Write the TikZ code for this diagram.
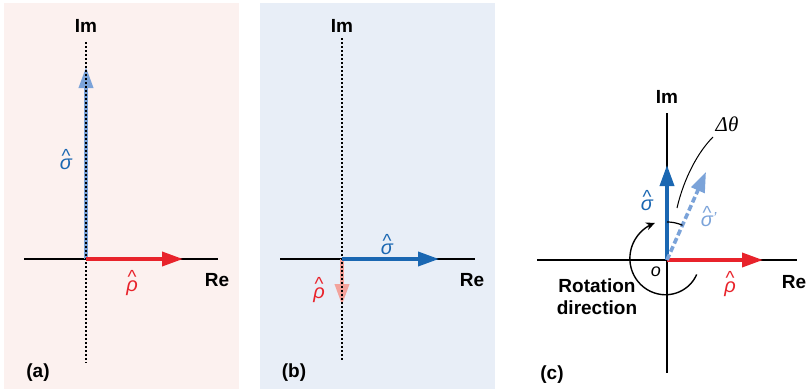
\documentclass[tikz,border=0pt]{standalone}
\usepackage{fontspec}
\setmainfont{Liberation Sans}
\newfontfamily\serifit{Liberation Serif}
\usetikzlibrary{arrows.meta}
\definecolor{bgpink}{HTML}{FCF1EF}
\definecolor{bgblue}{HTML}{E8EEF7}
\definecolor{dblue}{HTML}{1A67B2}
\definecolor{lblue}{HTML}{7BA3D9}
\definecolor{vred}{HTML}{E8232B}
\definecolor{lred}{HTML}{F3A39C}
\tikzset{
  axisline/.style={line width=1.6pt, black},
  dotline/.style={line width=1.5pt, black, dash pattern=on 2pt off 2pt},
  vecarrow/.style={line width=3.6pt, -{Triangle[length=21pt,width=14pt]}},
  lbl/.style={inner sep=0pt, font=\fontsize{19}{22}\selectfont\bfseries},
  sym/.style={inner sep=0pt, font=\fontsize{20}{22}\selectfont\itshape},
  hatmark/.style={inner sep=0pt, anchor=base, font=\fontsize{19}{22}\selectfont},
}
\begin{document}
\begin{tikzpicture}[x=1pt,y=-1pt]
\path[use as bounding box] (0,0) rectangle (807,391);
% backgrounds
\fill[bgpink] (4,3) rectangle (239,389);
\fill[bgblue] (260,3) rectangle (495,389);

% ---------- panel (a)
\coordinate (aO) at (86,259);
\coordinate (aL) at (24,259);
\coordinate (aR) at (218,259);
\coordinate (aT) at (86,42);
\coordinate (aB) at (86,363);
\coordinate (aX) at (183,259);
\coordinate (aY) at (86,67);
\draw[axisline] (aL) -- (aR);
\draw[vecarrow, lblue] (aO) -- (aY);
\draw[dotline] (aT) -- (aB);
\draw[vecarrow, vred] (aO) -- (aX);
\node[lbl] (aIm) at (86,26) {Im};
\node[lbl] (aRe) at (217,280) {Re};
\node[sym, text=dblue] (aSig) at (66,164) {σ};
\node[hatmark, text=dblue] (aSigH) at ([yshift=7pt]aSig.base) {\textasciicircum};
\node[sym, text=vred] (aRho) at (132,288) {ρ};
\node[hatmark, text=vred] (aRhoH) at ([yshift=8pt]aRho.base) {\textasciicircum};
\node[lbl] (aLab) at (38,373) {(a)};

% ---------- panel (b)
\coordinate (bO) at (342,259);
\coordinate (bL) at (280,259);
\coordinate (bR) at (475,259);
\coordinate (bT) at (342,38);
\coordinate (bB) at (342,360);
\coordinate (bX) at (439,259);
\coordinate (bY) at (342,305);
\draw[axisline] (bL) -- (bR);
\draw[vecarrow, lred] (bO) -- (bY);
\draw[dotline] (bT) -- (bB);
\draw[vecarrow, dblue] (bO) -- (bX);
\node[lbl] (bIm) at (342,26) {Im};
\node[lbl] (bRe) at (472,280) {Re};
\node[sym, text=dblue] (bSig) at (387,249) {σ};
\node[hatmark, text=dblue] (bSigH) at ([yshift=7pt]bSig.base) {\textasciicircum};
\node[sym, text=vred] (bRho) at (319,295) {ρ};
\node[hatmark, text=vred] (bRhoH) at ([yshift=8pt]bRho.base) {\textasciicircum};
\node[lbl] (bLab) at (294,373) {(b)};

% ---------- panel (c)
\coordinate (cO) at (667,260);
\coordinate (cL) at (537,260);
\coordinate (cR) at (797,260);
\coordinate (cT) at (667,113);
\coordinate (cB) at (667,373);
\coordinate (cX) at (763,260);
\coordinate (cY) at (667,165);
\coordinate (cS) at (706,172);
\draw[line width=1.3pt] (cL) -- (cR);
\draw[line width=1.3pt] (cT) -- (cB);
\draw[vecarrow, vred] (cO) -- (cX);
\draw[vecarrow, dblue] (cO) -- (cY);
\draw[line width=3.6pt, lblue, dash pattern=on 6pt off 3pt, -{Triangle[length=20pt,width=14pt]}] (cO) -- (cS);
% delta theta arc
\draw[line width=1.2pt] plot[domain=-90:-66, samples=20, variable=\t] ({667+38*cos(\t)},{260+38*sin(\t)});
% leader
\coordinate (lead1) at (677,208);
\coordinate (lead2) at (713,137);
\draw[line width=1pt] (lead1) .. controls (684,178) and (698,152) .. (lead2);
\node[inner sep=0pt, font=\fontsize{21}{22}\selectfont\serifit\itshape] (dth) at (727,124) {Δθ};
% rotation arrow
\draw[line width=1.4pt, -{Stealth[length=9pt,width=8pt]}] plot[domain=26:252, samples=60, variable=\t] ({667+(33+6*(\t-26)/226)*cos(\t)},{260+(33+6*(\t-26)/226)*sin(\t)});
\node[inner sep=0pt, font=\fontsize{18}{20}\selectfont\itshape] (cOl) at (656,272) {o};
\node[lbl, align=center] (rot) at (597,297) {Rotation\\direction};
\node[lbl] (cIm) at (667,97) {Im};
\node[lbl] (cRe) at (794,282) {Re};
\node[sym, text=dblue] (cSig) at (647,205) {σ};
\node[hatmark, text=dblue] (cSigH) at ([yshift=7pt]cSig.base) {\textasciicircum};
\node[sym, text=lblue] (cSig2) at (707,221) {σ};
\node[hatmark, text=lblue] (cSig2H) at ([yshift=7pt]cSig2.base) {\textasciicircum};
\node[inner sep=0pt, text=lblue, font=\fontsize{16}{18}\selectfont\itshape, anchor=north west] (cSig2P) at ([xshift=-0.5pt,yshift=3pt]cSig2.north east) {'};
\node[sym, text=vred] (cRho) at (730,289) {ρ};
\node[hatmark, text=vred] (cRhoH) at ([yshift=8pt]cRho.base) {\textasciicircum};
\node[lbl] (cLab) at (552,375) {(c)};
\end{tikzpicture}
\end{document}
